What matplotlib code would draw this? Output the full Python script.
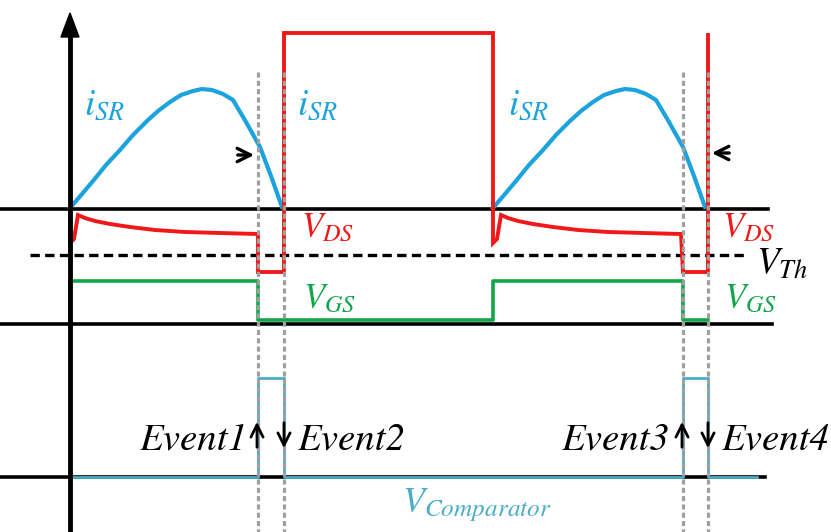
import matplotlib.pyplot as plt

plt.rcParams['mathtext.fontset'] = 'stix'

# colours of the traces
C_ISR = '#1CA3DE'
C_VDS = '#F01818'
C_VGS = '#12A54A'
C_CMP = '#4BACC6'
C_GRID = '#A0A0A0'

# time instants (horizontal position)
t_start = [70, 493]        # start of each conduction interval
t_trip = [258, 683]        # Event1 / Event3: comparator trips, gate goes low
t_zero = [284, 708]        # Event2 / Event4: current reaches zero

# vertical levels of the three traces
y_zero_top = 209          # i_SR / V_DS zero line
y_vth = 255               # threshold
y_zero_gs = 324           # V_GS zero line
y_zero_cmp = 477          # comparator zero line
vds_high = 33             # V_DS while blocking
vds_body = 272            # V_DS during body-diode conduction
vds_spike = 243           # turn-on spike
vgs_high = 281
vgs_low = 320
cmp_high = 378

# i_SR hump, offsets from the start of conduction
isr_dt = [0, 12, 23, 36, 50, 63, 77, 88, 100, 111, 123, 132, 142, 153, 163, 176, 190, 201, 212]
isr_y = [208, 194, 181, 165, 150, 135, 121, 111, 102, 95, 91, 89, 90, 94, 100, 122, 147, 176, 207]

# V_DS decay during channel conduction, offsets from the start of conduction
vds_dt = [8, 15, 25, 40, 60, 85, 115, 150, 188]
vds_y = [215, 218, 221, 224, 227, 230, 232, 233, 234]

fig = plt.figure(figsize=(8.31, 5.32), dpi=100)
ax = fig.add_axes([0, 0, 1, 1])
ax.set_xlim(0, 831)
ax.set_ylim(532, 0)
ax.axis('off')

# zero lines and the vertical axis
ax.plot([0, 768], [y_zero_top] * 2, color='black', lw=2.6, zorder=1)
ax.plot([0, 772], [y_zero_gs] * 2, color='black', lw=2.6, zorder=1)
ax.plot([0, 765], [y_zero_cmp] * 2, color='black', lw=2.6, zorder=1)
ax.plot([30, 747], [y_vth] * 2, color='black', lw=2.4, ls=(0, (2.8, 1.6)), zorder=1)
ax.plot([70, 70], [532, 35], color='black', lw=3.5, zorder=3)
ax.fill([61, 79, 70], [37, 37, 13], color='black', zorder=3)

# i_SR
for ts in t_start:
    ax.plot([ts + d for d in isr_dt], isr_y, color=C_ISR, lw=3.0, zorder=2,
            solid_joinstyle='round')

# V_DS
vx, vy = [], []
for k, ts in enumerate(t_start):
    vx += [ts, ts, ts + 4]
    vy += [y_zero_top, vds_spike, vds_spike - 4]
    vx += [ts + d for d in vds_dt]
    vy += vds_y
    vx += [t_trip[k], t_trip[k], t_zero[k], t_zero[k]]
    vy += [vds_body, vds_body, vds_body, vds_high + (2 if k else 0)]
    if k == 0:
        vx += [t_start[1]]
        vy += [vds_high]
ax.plot(vx, vy, color=C_VDS, lw=2.8, zorder=2, solid_joinstyle='miter')

# V_GS
gx = [t_start[0], t_start[0], t_trip[0], t_trip[0], t_start[1], t_start[1],
      t_trip[1], t_trip[1], t_zero[1]]
gy = [y_zero_gs, vgs_high, vgs_high, vgs_low, vgs_low, vgs_high,
      vgs_high, vgs_low, vgs_low]
ax.plot(gx, gy, color=C_VGS, lw=2.6, zorder=2)

# comparator output
cx = [70, t_trip[0], t_trip[0], t_zero[0], t_zero[0], t_trip[1], t_trip[1],
      t_zero[1], t_zero[1], 757]
cy = [y_zero_cmp, y_zero_cmp, cmp_high, cmp_high, y_zero_cmp, y_zero_cmp,
      cmp_high, cmp_high, y_zero_cmp, y_zero_cmp]
ax.plot(cx, cy, color=C_CMP, lw=2.0, zorder=2)

# dashed markers at the events
for t in t_trip + t_zero:
    ax.plot([t, t], [72, 532], color=C_GRID, lw=2.3, ls=(0, (1.6, 1.0)), zorder=4)

# small arrows at the current zero crossing
arw = dict(arrowstyle='->', color='black', lw=2.0, mutation_scale=22)
ax.annotate('', xy=(257, 155), xytext=(235, 155),
            arrowprops=dict(arw, lw=2.4, mutation_scale=24), zorder=5)
ax.annotate('', xy=(709, 153), xytext=(732, 153),
            arrowprops=dict(arw, lw=2.4, mutation_scale=24), zorder=5)
for t in t_trip:
    ax.annotate('', xy=(t - 1, 419), xytext=(t - 1, 450), arrowprops=arw, zorder=5)
for t in t_zero:
    ax.annotate('', xy=(t, 451), xytext=(t, 420), arrowprops=arw, zorder=5)

# labels
for x in [84, 297, 508]:
    ax.text(x, 115, r'$i_{SR}$', color=C_ISR, fontsize=27, va='baseline')
for x in [301, 722]:
    ax.text(x, 237, r'$V_{DS}$', color=C_VDS, fontsize=25, va='baseline')
    ax.text(x + 2, 308, r'$V_{GS}$', color=C_VGS, fontsize=25, va='baseline')
ax.text(756, 274, r'$V_{Th}$', color='black', fontsize=27, va='baseline')
ax.text(402, 512, r'$V_{Comparator}$', color=C_CMP, fontsize=26, va='baseline')

ev = dict(fontsize=28, family='STIXGeneral', style='italic', va='baseline')
ax.text(247, 450, 'Event1', ha='right', **ev)
ax.text(297, 450, 'Event2', ha='left', **ev)
ax.text(669, 450, 'Event3', ha='right', **ev)
ax.text(721, 450, 'Event4', ha='left', **ev)

fig.savefig('out.png', dpi=100)
